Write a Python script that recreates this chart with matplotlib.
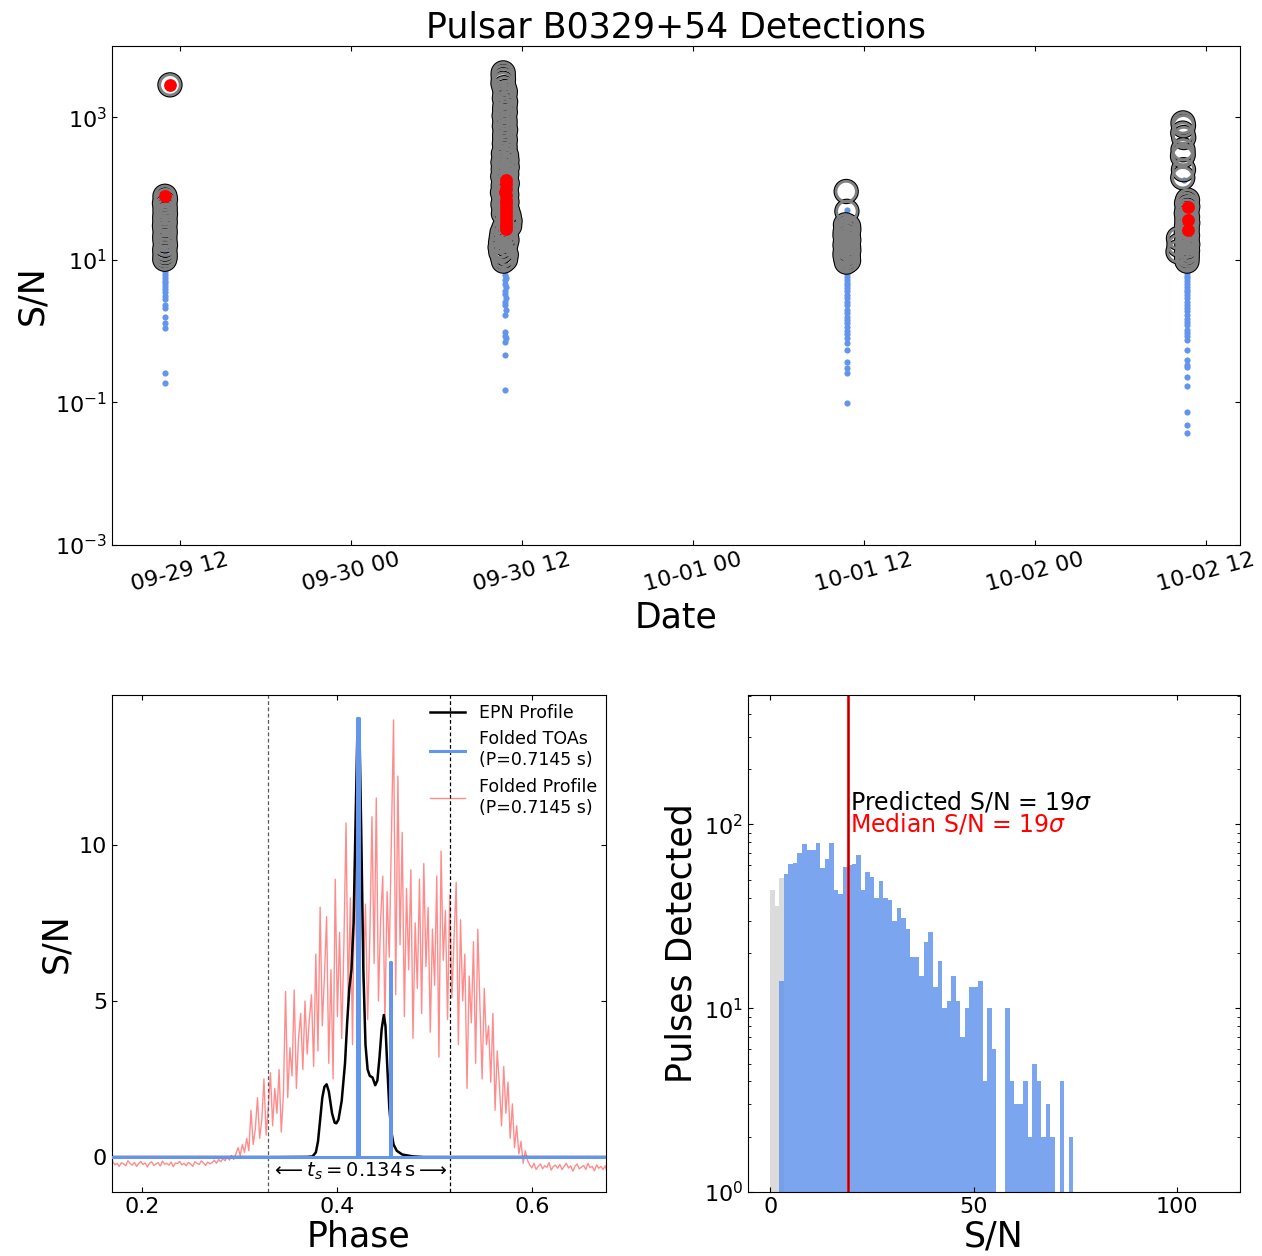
import numpy as np
import matplotlib
matplotlib.use('Agg')
import matplotlib.pyplot as plt
import matplotlib.dates as mdates
from matplotlib.ticker import FixedLocator, LogFormatterSciNotation, NullLocator
from datetime import datetime, timedelta

# ---------------- Top panel data ----------------
# circles: detections above threshold; blue: single-pulse candidates; red: flagged pulses
A_base = datetime(2020, 9, 29, 10, 57)
A_circ_snr = [2850, 78, 70, 62, 55, 49, 44, 40, 36, 33, 30, 27, 24, 21, 18.5, 16, 14, 12.5, 11.2, 10.2]
A_circ_dt = [21, 0, 2, -2, 1, 0, 2, -1, 0, 1, -2, 0, 1, -1, 0, 2, -1, 0, 1, -1]
A_blue_snr = [12, 10.5, 9.2, 8.8, 7.6, 6.8, 6.2, 5.6, 5.1, 4.7, 4.3, 3.9, 3.5, 3.1, 2.8, 2.35, 2.1,
              1.6, 1.3, 1.1, 0.26, 0.19]
A_blue_dt = [0, 1, 0, 0, 1, 0, -1, 0, 0, 1, 0, 0, -1, 0, 0, 0, 1, 0, 0, 0, 0, 0]
A_red_snr = [2850, 78]
A_red_dt = [21, 0]

B_base = datetime(2020, 9, 30, 10, 48)
B_circ_snr = [4200, 3800, 3400, 3000,
              2600, 2300, 2050, 1850, 1650, 1480, 1320, 1180, 1050, 940, 840, 750, 670, 600, 535, 480,
              430, 385, 345,
              310, 290, 270, 250, 232, 215, 200, 186, 172, 160, 148, 137, 127, 118, 110, 102, 95, 88, 82,
              76, 70, 65, 60, 56, 52, 48, 44.5, 41, 38, 35, 32.5, 30, 28, 26, 24, 22, 20.5, 19, 17.5,
              16.2, 15, 13.8, 12.8, 11.8, 11, 10.2, 9.6]
B_circ_dt = [-7, -7, -6, -8,
             -3, 2, 0, -2, 3, 1, -1, 2, -3, 0, 1, -2, 3, 0, -1, 2,
             -2, 1, 0,
             -6, 7, -3, 9, -8, 4, 10, -7, 2, 8, -9, 5, -4, 10, -7, 6, 0, -10, 8,
             -5, 3, 9, -8, 6, -3, 12, -6, 18, 10, 22, 14, 20, -4, 8, -12, 5, -15, 9, -18,
             4, -20, -8, -17, 6, -10, 3, -6]
B_blue_snr = [9.0, 8.0, 7.0, 6.2, 5.6, 5.2, 4.6, 4.2, 3.6, 3.3, 2.9, 2.6, 2.3, 2.0, 1.7, 0.98, 0.85,
              0.79, 0.71, 0.46, 0.15]
B_blue_dt = [2, 3, 1, 2, 4, 2, 1, 3, 2, 2, 3, 1, 2, 3, 2, 2, 1, 3, 2, 2, 2]
B_red_snr = [130, 115, 100, 90, 80, 70, 62, 55, 48, 42, 37, 33, 30, 27]
B_red_dt = [3, 5, 4, 2, 5, 3, 4, 6, 3, 4, 5, 3, 4, 4]

C_base = datetime(2020, 10, 1, 10, 48)
C_circ_snr = [91, 48, 31, 29.5, 28, 26.5, 25, 23.5, 22, 21, 20, 19, 18, 17, 16, 15.2, 14.4, 13.6,
              12.9, 12.2, 11.6, 11, 10.4, 9.8, 9.3]
C_circ_dt = [-3, 0, -6, 7, -3, 8, -7, 4, -8, 6, -2, 8, -6, 3, -8, 7, -4, 8, -7, 2, -8, 6, -5, 7, -2]
C_blue_snr = [50, 9.0, 8.5, 7.8, 7.0, 6.4, 5.8, 5.3, 4.8, 4.4, 4.0, 3.6, 3.2, 2.9, 2.6, 2.3, 2.0,
              1.8, 1.6, 1.45, 1.3, 1.15, 1.0, 0.9, 0.8, 0.68, 0.55, 0.37, 0.3, 0.26, 0.098]
C_blue_dt = [0, 0, 1, 0, -1, 0, 1, 0, 0, -1, 0, 1, 0, 0, 0, -1, 0, 1, 0, 0, 0, 0, 1, 0, 0, 0, 0,
             0, 0, 0, 0]
C_red_snr = []
C_red_dt = []

D_base = datetime(2020, 10, 2, 10, 40)
D_circ_snr = [835, 760, 600, 520, 350, 300, 284, 184, 142,
              69, 62, 56, 50, 45, 40, 36, 33, 30, 27, 24.5, 22, 20, 18, 16.5, 15, 13.5, 12.3, 11.2,
              10.2, 9.6,
              20, 16, 13]
D_circ_dt = [-17, -15, -18, -14, -17, -16, -19, -15, -18,
             2, -2, 3, 0, -3, 2, -1, 3, -2, 1, -3, 2, 0, -2, 3, -1, 2, -3, 1, -2, 0,
             -36, -34, -38]
D_blue_snr = [133, 9.0, 8.5, 7.8, 7.2, 6.6, 6.0, 5.5, 5.0, 4.6, 4.2, 3.8, 3.5, 3.2, 2.9, 2.6, 2.3,
              2.1, 1.9, 1.7, 1.5, 1.35, 1.2, 1.05, 0.95, 0.85, 0.76, 0.55, 0.4, 0.33, 0.31, 0.23,
              0.17, 0.074, 0.048, 0.037]
D_blue_dt = [-12, 0, 1, 0, 0, -1, 0, 1, 0, 0, 0, 1, 0, 0, -1, 0, 0, 1, 0, 0, 0, 0, 1, 0, 0, 0,
             0, 0, 0, 1, 0, 0, 0, 0, 0, 0]
D_red_snr = [56, 36, 26]
D_red_dt = [4, 4, 4]

# ---------------- Bottom-left data (folded profiles) ----------------
epn_phase = [0.1695, 0.340, 0.3700, 0.3752, 0.3786, 0.3808, 0.3830, 0.3852, 0.3874, 0.3896, 0.3919,
             0.3952, 0.3979, 0.3996, 0.4018, 0.4051, 0.4085, 0.4107, 0.4129, 0.4151, 0.4173, 0.4195,
             0.4212, 0.4223, 0.4234, 0.4251, 0.4273, 0.4295, 0.4317, 0.4339, 0.4367, 0.4395, 0.4417,
             0.4439, 0.4461, 0.4483, 0.4500, 0.4517, 0.4539, 0.4561, 0.4583, 0.4616, 0.4672, 0.4782,
             0.4893, 0.6762]
epn_val = [0.0, 0.0, 0.005, 0.02, 0.15, 0.5, 1.2, 1.9, 2.25, 2.33, 2.1,
           1.4, 1.1, 1.08, 1.2, 1.8, 3.0, 4.3, 5.4, 6.0, 7.5, 11.0,
           13.6, 14.05, 13.5, 10.5, 6.0, 3.6, 2.8, 2.6, 2.55, 2.3, 2.45,
           3.2, 4.1, 4.55, 4.2, 3.0, 1.6, 0.8, 0.4, 0.2, 0.08, 0.02,
           0.0, 0.0]

toa_phase = [0.1695, 0.4208, 0.4225, 0.4546, 0.4561, 0.6762]
toa_val = [0.0, 14.05, 0.0, 6.26, 0.0, 0.0]

profile_phase_start = 0.1703
profile_phase_step = 0.0022154
folded_profile = [
    -0.15, -0.25, -0.20, -0.30, -0.18, -0.22, -0.28, -0.12, -0.20, -0.26,
    -0.17, -0.30, -0.21, -0.14, -0.24, -0.19, -0.32, -0.20, -0.15, -0.27,
    -0.22, -0.18, -0.29, -0.13, -0.23, -0.20, -0.26, -0.16, -0.31, -0.19,
    -0.21, -0.14, -0.25, -0.20, -0.28, -0.17, -0.22, -0.30, -0.15, -0.20,
    -0.24, -0.12, -0.19, -0.27, -0.16, -0.22, -0.18, -0.10, -0.20, -0.08,
    -0.15, -0.05, -0.12, 0.02, -0.10, 0.05, -0.08, 0.10,
    0.30, 0.05, 0.40, 0.15, 0.60, 0.20, 1.50, 0.40, 0.90, 1.90, 0.60, 1.20, 2.50, 0.70, 1.60,
    2.70, 1.00, 2.20, 1.40, 2.80, 0.80, 2.00, 5.30, 1.90, 3.50, 2.60, 5.35, 2.20,
    3.80, 4.60, 2.80, 5.00, 3.30, 4.40, 5.20, 2.90, 6.50, 3.40, 8.00, 4.20, 5.80, 7.70, 3.00,
    6.00, 2.50, 8.90, 4.50, 7.20, 3.80, 6.80, 10.70, 5.00, 8.30, 3.60, 9.50, 6.00, 4.20,
    9.80, 5.60, 8.10, 4.40, 7.00, 10.90, 6.20, 11.50, 5.00, 7.60, 9.00, 4.30, 8.50, 6.40, 10.20,
    14.00, 5.20, 12.20, 6.80, 10.40, 4.50, 8.60, 6.00, 9.20, 3.80, 7.50, 5.40, 8.90, 4.60, 9.40,
    6.10, 8.00, 4.00, 7.30, 5.50, 9.00, 3.20, 9.80, 6.30, 7.90, 4.40, 8.40, 5.10, 7.00, 8.80,
    3.60, 7.60, 5.00, 6.50, 2.20, 5.80, 4.30, 6.90, 3.00, 7.30, 4.80, 2.50, 5.40, 3.60, 4.20,
    2.40, 4.60, 1.50, 3.40, 2.30, 1.00, 2.90, 1.40, 2.40, 0.60, 1.70, 0.30, 1.00, 0.10, 0.50, -0.20, 0.20, -0.10,
    -0.25, -0.35, -0.20, -0.40, -0.30, -0.22, -0.38, -0.28, -0.33, -0.18,
    -0.42, -0.30, -0.26, -0.36, -0.24, -0.40, -0.30, -0.20, -0.35, -0.28,
    -0.45, -0.30, -0.22, -0.38, -0.32, -0.27, -0.40, -0.20, -0.34, -0.30,
    -0.44, -0.25, -0.36, -0.30, -0.40, -0.28, -0.50]

window_phase = [0.3292, 0.5165]
period_s = 0.7145
scattering_time = 0.134

# ---------------- Bottom-right data (S/N histogram) ----------------
hist_snr_min = 0.0
hist_snr_max = 110.0
hist_nbins = 99
all_counts_low = [44, 36, 51]          # grey bins 0..2 (all pulses)
detected_counts = [0, 0, 14, 54, 61, 62, 70, 78, 73, 73, 79, 58, 65, 79, 44, 42, 59, 60, 61, 68,
                   44, 55, 52, 40, 49, 40, 39, 30, 35, 31, 27, 19, 19, 15, 23, 26, 13, 18, 10, 11,
                   15, 11, 7, 10, 13, 13, 14, 4, 10, 6, 1, 1, 10, 4, 3, 3, 4, 2, 5, 4,
                   2, 3, 2, 1, 4, 1, 2, 0, 1, 1, 1, 1, 1, 1, 1, 0, 0, 1, 1, 1,
                   1, 1, 1, 0, 0, 0, 0, 0, 0, 0, 0, 0, 1, 0, 0, 0, 0, 0, 0]
predicted_snr = 19
median_snr = 19.2

# ---------------- Figure ----------------
W, H = 1262, 1256
fig = plt.figure(figsize=(W / 100, H / 100), dpi=100)

def frac(l, t, r, b):
    return [l / W, 1 - b / H, (r - l) / W, (b - t) / H]

ax1 = fig.add_axes(frac(112, 46, 1240, 545))
ax2 = fig.add_axes(frac(112, 695, 606, 1192))
ax3 = fig.add_axes(frac(748, 695, 1240, 1192))

LABEL_FS = 25
TICK_FS = 16

# ---- top panel ----
clusters = [(A_base, A_circ_snr, A_circ_dt, A_blue_snr, A_blue_dt, A_red_snr, A_red_dt),
            (B_base, B_circ_snr, B_circ_dt, B_blue_snr, B_blue_dt, B_red_snr, B_red_dt),
            (C_base, C_circ_snr, C_circ_dt, C_blue_snr, C_blue_dt, C_red_snr, C_red_dt),
            (D_base, D_circ_snr, D_circ_dt, D_blue_snr, D_blue_dt, D_red_snr, D_red_dt)]

def to_num(base, dts):
    return mdates.date2num([base + timedelta(minutes=d) for d in dts])

for base, cs, cdt, bs, bdt, rs, rdt in clusters:
    ax1.scatter(to_num(base, bdt), bs, s=20, color='cornflowerblue', lw=0, zorder=2)
for base, cs, cdt, bs, bdt, rs, rdt in clusters:
    ax1.scatter(to_num(base, cdt), cs, s=290, facecolors='none', edgecolors='black',
                linewidths=1.2, zorder=3)
for base, cs, cdt, bs, bdt, rs, rdt in clusters:
    ax1.scatter(to_num(base, cdt), cs, s=215, facecolors='none', edgecolors='gray',
                linewidths=2.0, zorder=4)
for base, cs, cdt, bs, bdt, rs, rdt in clusters:
    if len(rs):
        ax1.scatter(to_num(base, rdt), rs, s=85, color='red', lw=0, zorder=5)

ax1.set_yscale('log')
ax1.set_ylim(1e-3, 1e4)
ax1.yaxis.set_major_locator(FixedLocator([1e-3, 1e-1, 1e1, 1e3]))
ax1.yaxis.set_major_formatter(LogFormatterSciNotation())
ax1.yaxis.set_minor_locator(NullLocator())
ax1.set_xlim(mdates.date2num(datetime(2020, 9, 29, 7, 14)),
             mdates.date2num(datetime(2020, 10, 2, 14, 23)))
ax1.xaxis.set_major_locator(mdates.HourLocator(byhour=[0, 12]))
ax1.xaxis.set_major_formatter(mdates.DateFormatter('%m-%d %H'))
ax1.tick_params(which='both', direction='in', top=True, right=True, labelsize=TICK_FS)
ax1.tick_params(axis='x', labelrotation=15)
ax1.set_xlabel('Date', fontsize=LABEL_FS)
ax1.set_ylabel('S/N', fontsize=LABEL_FS)
ax1.set_title('Pulsar B0329+54 Detections', fontsize=LABEL_FS)

# ---- bottom-left panel ----
prof_phase = profile_phase_start + profile_phase_step * np.arange(len(folded_profile))
ax2.plot(epn_phase, epn_val, color='black', lw=1.8, zorder=2, label='EPN Profile')
ax2.plot(toa_phase, toa_val, color='cornflowerblue', lw=2.2, drawstyle='steps-post', zorder=3,
         label='Folded TOAs\n(P=%.4f s)' % period_s)
ax2.plot(prof_phase, folded_profile, color='red', alpha=0.45, lw=1.0, zorder=1,
         label='Folded Profile\n(P=%.4f s)' % period_s)
ax2.axvline(window_phase[0], color='0.35', ls=(0, (3, 2)), lw=0.9)
ax2.axvline(window_phase[1], color='black', ls=(0, (3, 2)), lw=0.9)
ax2.text(np.mean(window_phase), -0.45,
         r'$\longleftarrow t_s = %.3f\,\mathrm{s} \longrightarrow$' % scattering_time,
         ha='center', va='center', fontsize=14)
ax2.set_xlim(0.1695, 0.6762)
ax2.set_ylim(-1.12, 14.8)
ax2.set_xticks([0.2, 0.4, 0.6])
ax2.set_yticks([0, 5, 10])
ax2.tick_params(direction='in', top=True, right=True, labelsize=TICK_FS)
ax2.set_xlabel('Phase', fontsize=LABEL_FS, labelpad=2)
ax2.set_ylabel('S/N', fontsize=LABEL_FS)
ax2.legend(loc='upper right', fontsize=12.5, frameon=False, borderaxespad=0.1)

# ---- bottom-right panel ----
edges = np.linspace(hist_snr_min, hist_snr_max, hist_nbins + 1)
centers = 0.5 * (edges[:-1] + edges[1:])
ax3.hist(centers[:len(all_counts_low)], bins=edges, weights=all_counts_low, log=True,
         color='lightgray', alpha=0.8)
ax3.hist(centers, bins=edges, weights=detected_counts, log=True,
         color='cornflowerblue', alpha=0.85)
ax3.axvline(median_snr, color='red', lw=2.0)
ax3.axvline(median_snr, color='darkred', lw=0.7, alpha=0.8)
ax3.text(median_snr + 0.3, 121, r'Predicted S/N = %d$\sigma$' % predicted_snr, color='black',
         fontsize=17, va='baseline')
ax3.text(median_snr + 0.3, 91, r'Median S/N = %d$\sigma$' % round(median_snr), color='red',
         fontsize=17, va='baseline')
ax3.set_xlim(-5.5, 115.5)
ax3.set_ylim(1, 506)
ax3.set_xticks([0, 50, 100])
ax3.tick_params(which='both', direction='in', top=True, right=True, labelsize=TICK_FS)
ax3.set_xlabel('S/N', fontsize=LABEL_FS, labelpad=2)
ax3.set_ylabel('Pulses Detected', fontsize=LABEL_FS)

fig.savefig('out.png', dpi=100)
